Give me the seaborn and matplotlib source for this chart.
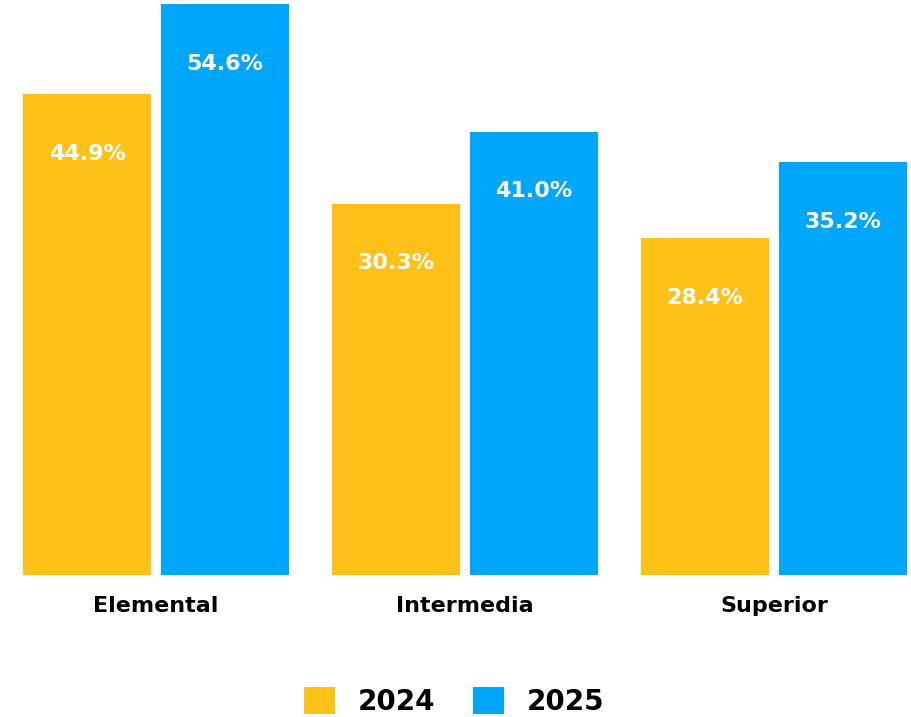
import matplotlib
matplotlib.use("Agg")
import matplotlib.pyplot as plt
import seaborn as sns
import pandas as pd
from matplotlib.patches import Patch

categories = ["Elemental", "Intermedia", "Superior"]
years = ["2024", "2025"]
# displayed values (labels)
labels_2024 = ["44.9%", "30.3%", "28.4%"]
labels_2025 = ["54.6%", "41.0%", "35.2%"]
# bar heights as drawn in the picture (percent scale)
heights_2024 = [46.0, 35.5, 32.2]
heights_2025 = [54.6, 42.4, 39.5]

colors = ["#FEC118", "#00A6FA"]

sns.set_theme(style="white")
plt.rcParams["font.family"] = ["DejaVu Sans"]
plt.rcParams["text.color"] = "black"

df = pd.DataFrame({
    "category": categories * 2,
    "year": [years[0]] * 3 + [years[1]] * 3,
    "height": heights_2024 + heights_2025,
})

fig = plt.figure(figsize=(9.12, 7.17), dpi=100)
ax = fig.add_axes([0, 0.198, 1, 0.802])

sns.barplot(data=df, x="category", y="height", hue="year", hue_order=years,
            palette=colors, saturation=1, width=0.893, gap=0.072,
            ax=ax, legend=False, errorbar=None, linewidth=0, edgecolor="none")

ax.set_xlim(-0.505, 2.447)
ax.set_ylim(0, 54.98)
for s in ax.spines.values():
    s.set_visible(False)
ax.set_yticks([])
ax.set_xlabel("")
ax.set_ylabel("")
ax.tick_params(axis="x", length=0, pad=15)
for t in ax.get_xticklabels():
    t.set_fontsize(16)
    t.set_fontweight("bold")
    t.set_color("black")

for cont, labs in zip(ax.containers, [labels_2024, labels_2025]):
    for bar, lab in zip(cont, labs):
        ax.annotate(lab, (bar.get_x() + bar.get_width() / 2, bar.get_height()),
                    xytext=(0, -43), textcoords="offset points",
                    ha="center", va="center", color="white",
                    fontsize=16, fontweight="bold")

handles = [Patch(facecolor=c, edgecolor="none") for c in colors]
leg = fig.legend(handles, years, loc="center", bbox_to_anchor=(0.498, 0.022),
                 ncol=2, frameon=False, prop={"size": 20, "weight": "bold"},
                 handlelength=1.1, handleheight=1.15, handletextpad=0.83,
                 columnspacing=1.37)
for t in leg.get_texts():
    t.set_color("black")

fig.savefig("out.png", dpi=100)
